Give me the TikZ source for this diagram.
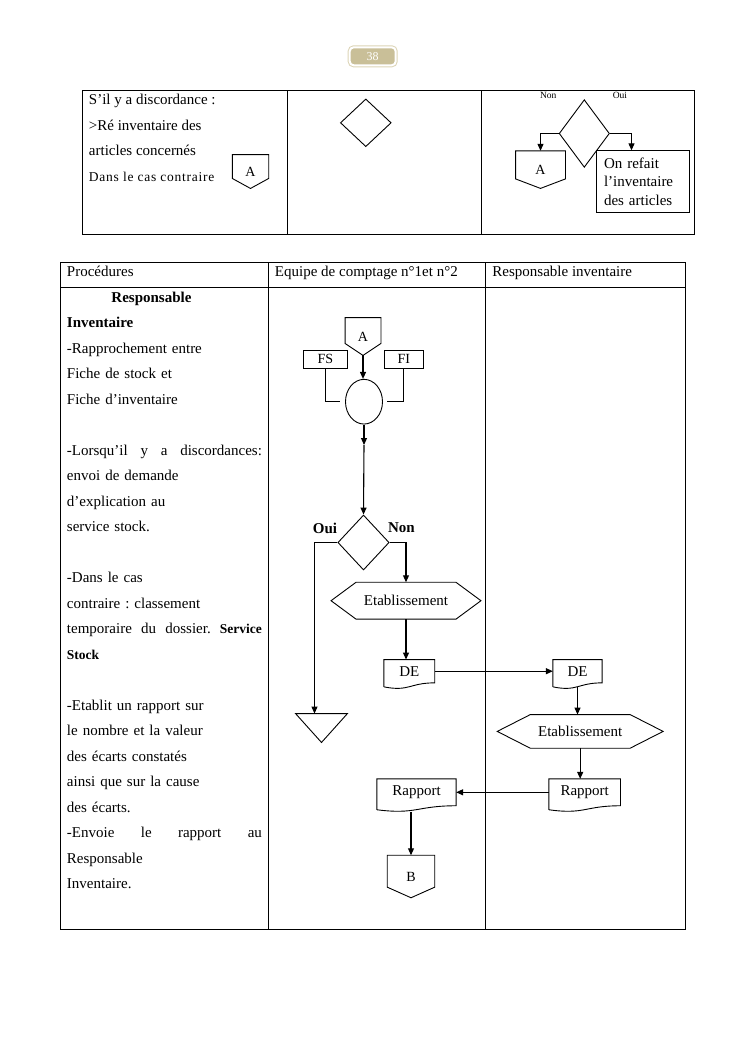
\documentclass[tikz,border=0pt]{standalone}
\usepackage{fontspec}
\setmainfont{Liberation Serif}
\usepackage{xcolor}
\definecolor{badge}{RGB}{201,191,152}
\definecolor{badgeline}{RGB}{220,212,182}
\usepackage{tikz}
\usetikzlibrary{shapes.geometric,arrows.meta,positioning}
\frenchspacing

\begin{document}
\begin{tikzpicture}[x=1pt,y=-1pt,line width=0.9pt,
  every node/.style={font=\fontsize{15}{18}\selectfont},
  badgebox/.style={rectangle,rounded corners=4pt,fill=badge,draw=white,line width=2pt,
                   preaction={draw=badgeline,line width=4pt},
                   minimum width=46pt,minimum height=18pt,text=white,
                   font=\fontsize{12}{12}\selectfont},
  cell/.style={inner sep=0pt,align=left,font=\fontsize{15}{25.5}\selectfont},
  head/.style={inner sep=0pt,anchor=base west},
  box/.style={rectangle,draw,inner sep=0pt,minimum height=18.3pt,font=\fontsize{14}{16}\selectfont},
  decision/.style={diamond,draw,inner sep=0pt},
  offpage/.style={inner sep=0pt,font=\fontsize{14}{16}\selectfont,
    append after command={\pgfextra{\draw (\tikzlastnode.north west) -- (\tikzlastnode.north east)
      -- ([yshift=#1]\tikzlastnode.south east) -- (\tikzlastnode.south)
      -- ([yshift=#1]\tikzlastnode.south west) -- cycle;}}},
  offpage/.default=10pt,
  docu/.style={inner sep=0pt,
    append after command={\pgfextra{\draw ([yshift=-4pt]\tikzlastnode.south west)
      -- (\tikzlastnode.north west) -- (\tikzlastnode.north east) -- (\tikzlastnode.south east)
      .. controls (\tikzlastnode.south) and ([yshift=-9pt]\tikzlastnode.south)
      .. ([yshift=-4pt]\tikzlastnode.south west);}}},
  hexa/.style={inner sep=0pt,
    append after command={\pgfextra{\draw ([xshift=#1]\tikzlastnode.north west)
      -- ([xshift=-#1]\tikzlastnode.north east) -- (\tikzlastnode.east)
      -- ([xshift=-#1]\tikzlastnode.south east) -- ([xshift=#1]\tikzlastnode.south west)
      -- (\tikzlastnode.west) -- cycle;}}},
  merge/.style={inner sep=0pt,
    append after command={\pgfextra{\draw (\tikzlastnode.north west) -- (\tikzlastnode.north east)
      -- (\tikzlastnode.south) -- cycle;}}},
  lbl/.style={font=\fontsize{15}{18}\selectfont\bfseries,inner sep=0pt},
  tiny/.style={font=\fontsize{9.5}{10}\selectfont,inner sep=0pt},
  arr/.style={-{Triangle[length=7pt,width=6pt]},line width=1.1pt}
]
  \useasboundingbox (0,0) rectangle (745,1053);

  \node[badgebox] (page) at (372.7,56.3) {38};

  % first table
  \draw (82,90.5) rectangle (694,234);
  \draw (287,90.5) -- (287,234);
  \draw (481,90.5) -- (481,234);

  \node[cell,anchor=north west] (txt1) at (88.5,94) {S’il y a discordance :\\
    >Ré inventaire des\\
    articles concernés\\
    {\fontsize{13.5}{25.5}\selectfont\addfontfeatures{LetterSpace=5.5}Dans le cas contraire}};
  \node[offpage,minimum width=35.5pt,minimum height=33pt] (a1) at (250.5,171.5) {A};

  \node[decision,minimum width=50.8pt,minimum height=47.7pt] (d1) at (365.8,122.8) {};

  \node[decision,minimum width=50.3pt,minimum height=67.6pt] (d2) at (584.3,133.5) {};
  \node[tiny] (non1) at (548.3,95.5) {Non};
  \node[tiny] (oui1) at (620,95.5) {Oui};
  \node[offpage=9.5pt,minimum width=49pt,minimum height=36.7pt] (a2) at (540.5,169.6) {A};
  \node[rectangle,draw,minimum width=93pt,minimum height=61.3pt,text width=77pt,inner xsep=8pt,
        align=left,font=\fontsize{15}{18.4}\selectfont] (refait) at (642.5,181.4)
        {On refait\\ l’inventaire\\ des articles};

  \draw[arr] (d2.west) -| (a2.north);
  \draw[arr] (d2.east) -| ([xshift=-11pt]refait.north);

  % second table
  \draw (60,262) rectangle (685,929);
  \draw (60,287) -- (685,287);
  \draw (268,262) -- (268,929);
  \draw (485,262) -- (485,929);

  \node[head] (h1) at (66.5,276.5) {Procédures};
  \node[head] (h2) at (274.5,276.5) {Equipe de comptage n°1et n°2};
  \node[head] (h3) at (492,276.5) {Responsable inventaire};

  \node[cell,text width=195pt,anchor=north west] (proc) at (66.5,291.5) {%
    \hspace*{44.5pt}\textbf{Responsable}\\
    \textbf{Inventaire}\\
    -Rapprochement entre\\
    Fiche de stock et\\
    Fiche d’inventaire\\
    ~\\
    -Lorsqu’il\hfill y\hfill a\hfill discordances:\\
    envoi de demande\\
    d’explication au\\
    service stock.\\
    ~\\
    -Dans le cas\\
    contraire : classement\\
    temporaire\hfill du\hfill dossier.\hfill {\fontsize{13.5}{25.5}\selectfont\bfseries Service}\\
    {\fontsize{13.5}{25.5}\selectfont\bfseries Stock}\\
    ~\\
    -Etablit un rapport sur\\
    le nombre et la valeur\\
    des écarts constatés\\
    ainsi que sur la cause\\
    des écarts.\\
    -Envoie\hfill le\hfill rapport\hfill au\\
    Responsable\\
    Inventaire.};

  \node[offpage=12pt,minimum width=35pt,minimum height=37pt] (a3) at (363,336.5) {A};
  \node[box,minimum width=44pt] (fs) at (325.3,359.2) {FS};
  \node[box,minimum width=39pt] (fi) at (403.8,359.2) {FI};
  \node[ellipse,draw,inner sep=0pt,minimum width=37pt,minimum height=44.7pt] (ell) at (364,401.7) {};
  \coordinate (mid) at (364,445);
  \node[decision,minimum width=51.3pt,minimum height=55pt] (d3) at (363.5,542.5) {};
  \node[lbl] (oui2) at (325,528) {Oui};
  \node[lbl] (non2) at (401.5,528) {Non};
  \node[hexa=25pt,minimum width=149pt,minimum height=36pt] (etab1) at (406,600.7) {Etablissement};
  \node[merge,minimum width=51pt,minimum height=28pt] (tri) at (321.5,728) {};
  \node[docu,minimum width=50pt,minimum height=22.4pt] (de1) at (409.3,671.2) {DE};

  \node[docu,minimum width=48.4pt,minimum height=22.4pt] (de2) at (577.5,671.2) {DE};
  \node[hexa=33pt,minimum width=165pt,minimum height=32.7pt] (etab2) at (580.2,731.4) {Etablissement};
  \node[docu,minimum width=70.7pt,minimum height=26pt] (rap2) at (584.7,792.3) {Rapport};
  \node[docu,minimum width=78.4pt,minimum height=26pt] (rap1) at (416.5,792.3) {Rapport};
  \node[offpage=10.6pt,minimum width=46.6pt,minimum height=41.6pt] (b) at (411,876.5) {B};

  \draw[arr] (a3.south) -- (a3.south |- ell.north);
  \draw (fs.south) |- ([xshift=-5pt]ell.west);
  \draw (fi.south) |- ([xshift=4pt]ell.east);
  \draw[arr] (ell.south) -- (mid);
  \draw[arr] (mid) -- (d3.north);
  \draw[arr] (d3.west) -| ([xshift=-7pt]tri.north);
  \draw[arr] (d3.east) -| (etab1.north);
  \draw[arr] (etab1.south) -- (etab1.south |- de1.north);
  \draw[arr] (de1.east) -- (de1.east -| de2.west);
  \draw[arr,shorten <=4pt] (de2.south) -- (de2.south |- etab2.north);
  \draw[arr] (etab2.south) -- (etab2.south |- rap2.north);
  \draw[arr] (rap2.west) -- (rap1.east);
  \draw[arr,shorten <=6pt] (rap1.south -| b.north) -- (b.north);
\end{tikzpicture}
\end{document}
